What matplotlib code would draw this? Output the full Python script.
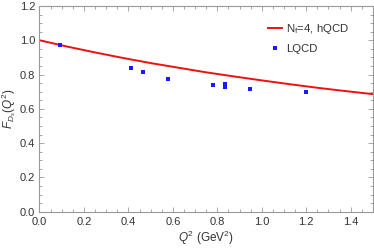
import matplotlib
matplotlib.use("Agg")
import matplotlib.pyplot as plt
from matplotlib.ticker import MultipleLocator

plt.rcParams['font.family'] = ['Liberation Sans', 'DejaVu Sans']
plt.rcParams['mathtext.fontset'] = 'custom'
plt.rcParams['mathtext.rm'] = 'Liberation Sans'
plt.rcParams['mathtext.it'] = 'Liberation Sans:italic'

# hQCD curve
curve_q2 = [0.0, 0.125, 0.25, 0.375, 0.5, 0.625, 0.75, 0.875, 1.0, 1.125, 1.25, 1.375, 1.5]
curve_f = [1.0, 0.963, 0.929, 0.897, 0.867, 0.840, 0.813, 0.789, 0.766, 0.744, 0.723, 0.704, 0.686]

# LQCD points
lqcd_q2 = [0.094, 0.413, 0.466, 0.578, 0.782, 0.833, 0.833, 0.945, 1.20]
lqcd_f = [0.973, 0.839, 0.814, 0.777, 0.742, 0.746, 0.727, 0.717, 0.699]

fig = plt.figure(figsize=(3.74, 2.48), dpi=100)
ax = fig.add_axes([0.1056, 0.146, 0.8914, 0.830])

ax.plot(curve_q2, curve_f, color='#ee1111', lw=1.4, label=r'N$_{\rm f}$=4, hQCD')
ax.plot(lqcd_q2, lqcd_f, 's', color='#1a1aff', ms=3.4, mew=0, label='LQCD')

ax.set_xlim(0, 1.5)
ax.set_ylim(0, 1.2)
ax.xaxis.set_minor_locator(MultipleLocator(0.05))
ax.yaxis.set_minor_locator(MultipleLocator(0.05))
ax.set_xticks([0, 0.2, 0.4, 0.6, 0.8, 1.0, 1.2, 1.4])
ax.set_xticklabels(['0.0', '0.2', '0.4', '0.6', '0.8', '1.0', '1.2', '1.4'])
ax.set_yticks([0, 0.2, 0.4, 0.6, 0.8, 1.0, 1.2])
ax.set_yticklabels(['0.0', '0.2', '0.4', '0.6', '0.8', '1.0', '1.2'])

for s in ax.spines.values():
    s.set_color('#999999')
    s.set_linewidth(0.8)
ax.tick_params(which='both', direction='in', top=True, right=True, color='#999999',
               labelsize=8, labelcolor='#333333', width=0.6)
ax.tick_params(which='major', length=3.5)
ax.tick_params(which='minor', length=2)
ax.tick_params(axis='x', which='major', pad=4)
ax.tick_params(axis='y', which='major', pad=3)

ax.set_xlabel(r'$Q^2$ (GeV$^2$)', fontsize=8.5, color='#333333', labelpad=1)
ax.set_ylabel(r'$F_{D_s}(Q^2)$', fontsize=8.5, color='#333333', labelpad=1)

leg = ax.legend(loc='upper left', bbox_to_anchor=(0.685, 0.92), frameon=False, fontsize=8.2,
                borderpad=0, handlelength=1.2, handletextpad=0.4, labelspacing=0.7,
                markerscale=1.0, borderaxespad=0)
for t in leg.get_texts():
    t.set_color('#333333')

fig.savefig('out.png', dpi=100)
